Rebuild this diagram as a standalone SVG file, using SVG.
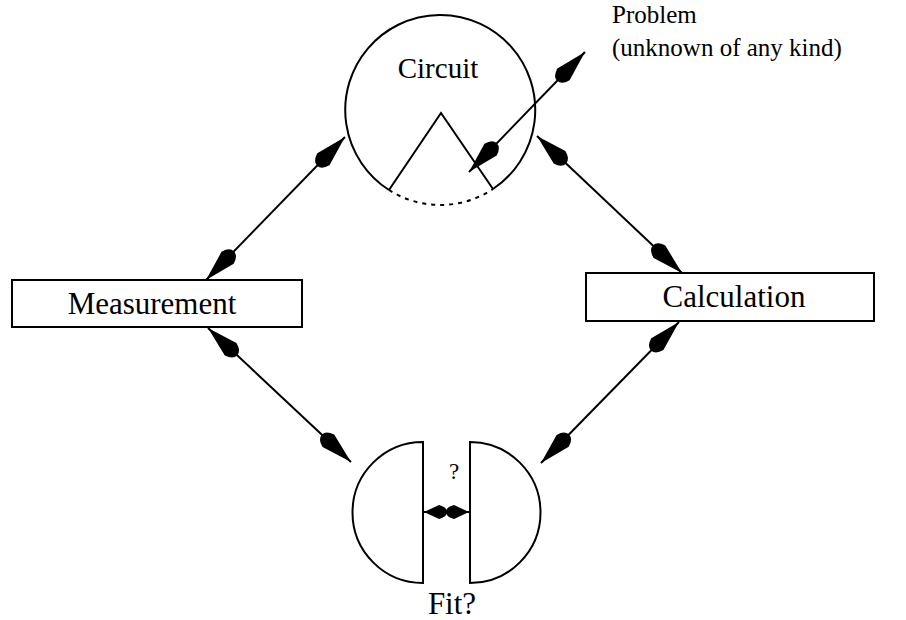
<svg xmlns="http://www.w3.org/2000/svg" width="906" height="620" viewBox="0 0 906 620">
<style>
.ln{fill:none;stroke:#000;stroke-width:2}
.bx{fill:#fff;stroke:#000;stroke-width:2}
.tx{font-family:"Liberation Serif","Times New Roman",serif;fill:#000}
</style>
<defs>
<marker id="ah" viewBox="-42 -10 43 20" refX="0" refY="0" markerWidth="43" markerHeight="20" markerUnits="userSpaceOnUse" orient="auto-start-reverse">
<path d="M0,0 L-31,-8.5 Q-40,-6 -40,0 Q-40,6 -31,8.5 Z" fill="#000"/>
</marker>
<marker id="ahs" viewBox="-25 -8 26 16" refX="0" refY="0" markerWidth="26" markerHeight="16" markerUnits="userSpaceOnUse" orient="auto-start-reverse">
<path d="M0,0 L-15,-7 Q-23,-5 -23,0 Q-23,5 -15,7 Z" fill="#000"/>
</marker>
</defs>
<rect width="906" height="620" fill="#fff"/>
<g id="circuit">
<path class="ln" d="M389,190 A95,95 0 1 1 493,189"/>
<path class="ln" d="M389,190 A95,95 0 0 0 493,189" stroke-dasharray="4,5"/>
<path class="ln" d="M389,190 L441,113 L493,189"/>
<text class="tx" x="438" y="78" font-size="29" text-anchor="middle">Circuit</text>
</g>
<g id="problem">
<text class="tx" x="612" y="23" font-size="25">Problem</text>
<text class="tx" x="612" y="56" font-size="25">(unknown of any kind)</text>
</g>
<g id="measurement">
<rect class="bx" x="12" y="280" width="290" height="47"/>
<text class="tx" x="152" y="314" font-size="31" text-anchor="middle">Measurement</text>
</g>
<g id="calculation">
<rect class="bx" x="586" y="273" width="288" height="48"/>
<text class="tx" x="734" y="307" font-size="31" text-anchor="middle">Calculation</text>
</g>
<g id="fit">
<path class="ln" d="M423,442 A70.5,70.5 0 0 0 423,583 Z"/>
<path class="ln" d="M470,442 A70.5,70.5 0 0 1 470,583 Z"/>
<text class="tx" x="454" y="479" font-size="23" text-anchor="middle">?</text>
<text class="tx" x="452" y="614" font-size="31" text-anchor="middle">Fit?</text>
</g>
<g id="connectors" class="ln">
<line x1="345" y1="137" x2="206" y2="280" marker-start="url(#ah)" marker-end="url(#ah)"/>
<line x1="208" y1="328" x2="351" y2="462" marker-start="url(#ah)" marker-end="url(#ah)"/>
<line x1="537" y1="136" x2="682" y2="273" marker-start="url(#ah)" marker-end="url(#ah)"/>
<line x1="679" y1="322" x2="541" y2="463" marker-start="url(#ah)" marker-end="url(#ah)"/>
<line x1="469" y1="172" x2="585" y2="52" marker-start="url(#ah)" marker-end="url(#ah)"/>
<line x1="424" y1="512" x2="469" y2="512" marker-start="url(#ahs)" marker-end="url(#ahs)"/>
</g>
</svg>
